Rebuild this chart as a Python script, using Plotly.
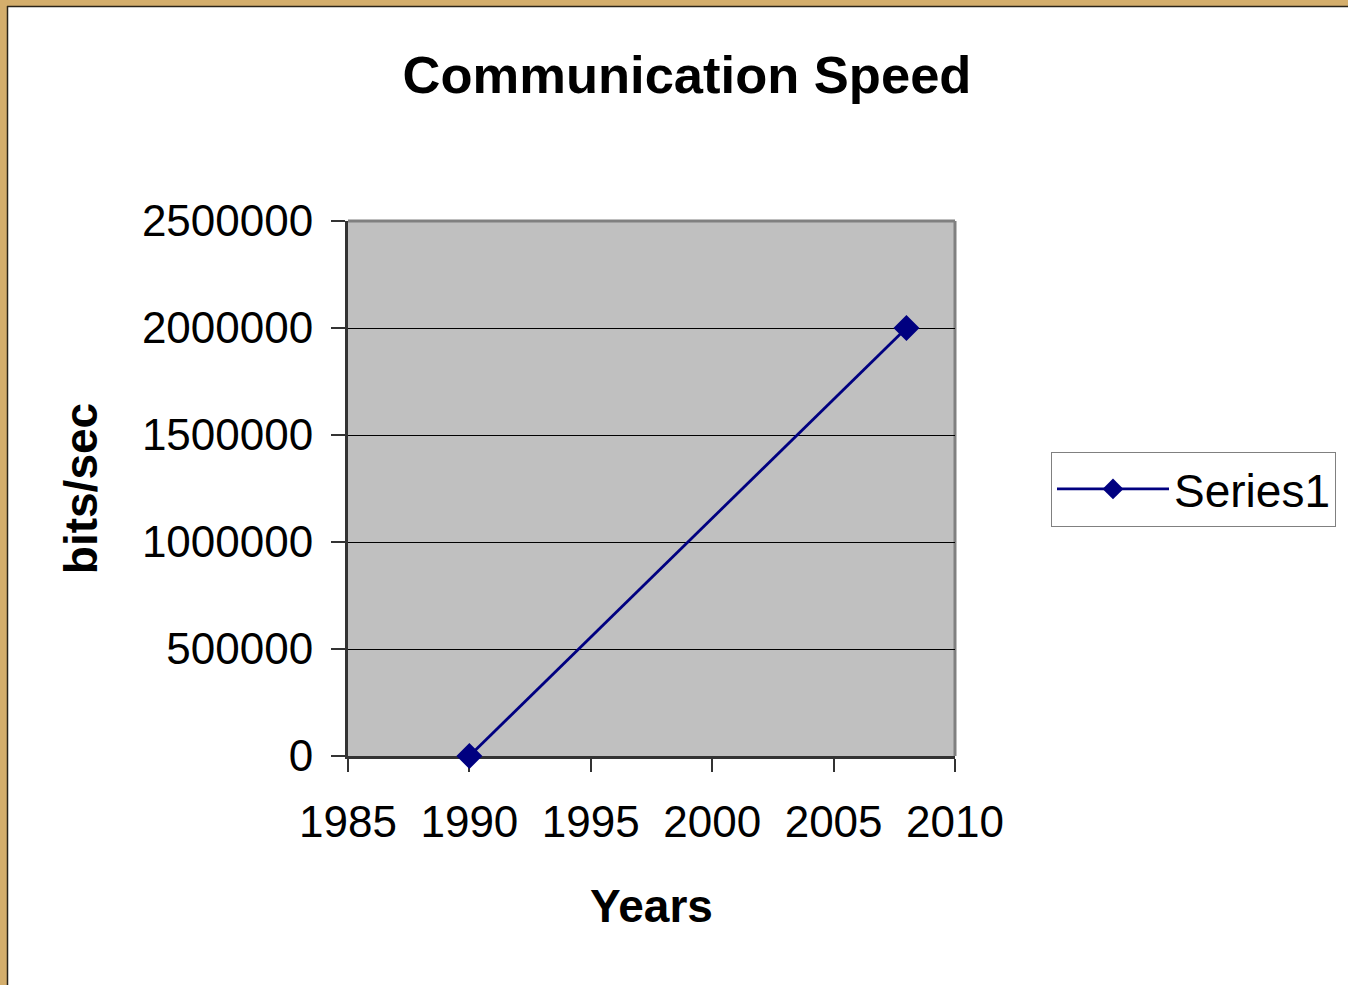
import plotly.graph_objects as go

# ---- data ----
years = [1990, 2008]
speeds = [0, 2000000]
series_name = "Series1"
x_ticks = [1985, 1990, 1995, 2000, 2005, 2010]
y_ticks = [0, 500000, 1000000, 1500000, 2000000, 2500000]

W, H = 1348, 985
L, R, T, B = 348, 955, 221, 756  # plot area pixels

def px(xp):
    return (xp - L) / (R - L)

def py(yp):
    return (B - yp) / (B - T)

FONT = "Arial, Liberation Sans, sans-serif"
TAN = "#D4AE6C"

fig = go.Figure()
fig.add_trace(go.Scatter(
    x=years, y=speeds, name=series_name, mode="lines+markers",
    line=dict(color="#000080", width=2.8),
    marker=dict(symbol="diamond", size=20, color="#000080"),
    cliponaxis=False,
    showlegend=True,
))

shapes = [
    # tan frame strips
    dict(type="rect", xref="paper", yref="paper", x0=px(-5), x1=px(W + 5), y0=py(6), y1=py(-5),
         fillcolor=TAN, line=dict(width=0), layer="below"),
    dict(type="rect", xref="paper", yref="paper", x0=px(-5), x1=px(7), y0=py(H + 5), y1=py(-5),
         fillcolor=TAN, line=dict(width=0), layer="below"),
    dict(type="line", xref="paper", yref="paper", x0=px(7), x1=px(W + 5), y0=py(6.5), y1=py(6.5),
         line=dict(color="#2a2418", width=1.5)),
    dict(type="line", xref="paper", yref="paper", x0=px(7.5), x1=px(7.5), y0=py(H + 5), y1=py(6),
         line=dict(color="#2a2418", width=1.5)),
    # top and right plot border (gray)
    dict(type="line", xref="paper", yref="paper", x0=0, x1=1, y0=1, y1=1,
         line=dict(color="#808080", width=3), layer="below"),
    dict(type="line", xref="paper", yref="paper", x0=1, x1=1, y0=0, y1=1,
         line=dict(color="#808080", width=3), layer="below"),
]

fig.update_layout(
    width=W, height=H,
    margin=dict(l=L, r=W - R, t=T, b=H - B, pad=0),
    paper_bgcolor="white",
    plot_bgcolor="#C0C0C0",
    font=dict(family=FONT, color="black"),
    title=dict(text="<b>Communication Speed</b>", x=687 / W, xanchor="center",
               y=1 - 75 / H, yanchor="middle", font=dict(size=52.5, family=FONT, color="black")),
    xaxis=dict(
        range=[1985, 2010], tickvals=x_ticks, ticktext=[str(v) for v in x_ticks],
        showgrid=False, zeroline=False, layer="below traces",
        showline=True, linecolor="#333333", linewidth=3,
        ticks="outside", ticklen=13, tickcolor="#333333", tickwidth=1.5,
        tickfont=dict(size=44, family=FONT, color="black"),
        ticklabelstandoff=12,
        title=dict(text="<b>Years</b>", font=dict(size=46, family=FONT, color="black"), standoff=46),
    ),
    yaxis=dict(
        range=[0, 2500000], tickvals=y_ticks, ticktext=[str(v) for v in y_ticks],
        showgrid=True, gridcolor="black", gridwidth=1, zeroline=False, layer="below traces",
        showline=True, linecolor="#333333", linewidth=3,
        ticks="outside", ticklen=14, tickcolor="#333333", tickwidth=1.5,
        tickfont=dict(size=44, family=FONT, color="black"),
        ticklabelstandoff=9,
        title=dict(text="<b>bits/sec</b>", font=dict(size=46, family=FONT, color="black"), standoff=30),
    ),
    legend=dict(
        x=px(1051), y=py(489), xanchor="left", yanchor="middle",
        bordercolor="#808080", borderwidth=1, bgcolor="white",
        itemwidth=112,
        font=dict(size=46, family=FONT, color="black"),
    ),
    shapes=shapes,
)

fig.write_html(
    "out.html",
    config={"displayModeBar": False},
    post_script="document.body.style.margin='0';document.body.style.overflow='hidden';",
)
